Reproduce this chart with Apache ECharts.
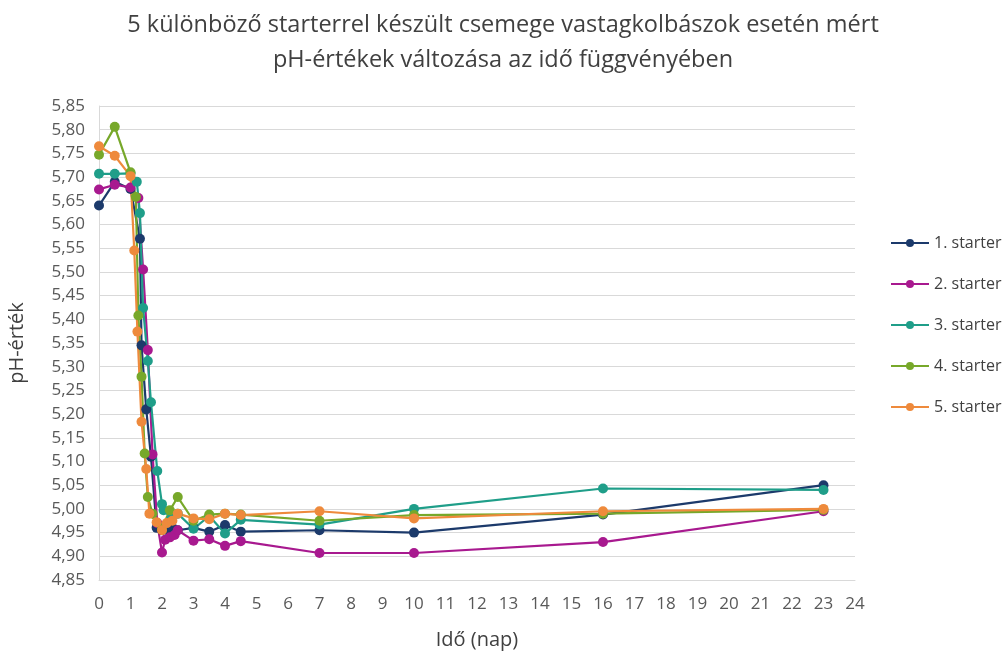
<!DOCTYPE html>
<html>
<head>
<meta charset="utf-8">
<title>pH-értékek</title>
<style>
  html, body { margin: 0; padding: 0; background: #fff; }
  #main { width: 1006px; height: 655px; }
</style>
</head>
<body>
<div id="main"></div>
<script src="https://cdn.jsdelivr.net/npm/echarts@6/dist/echarts.min.js"></script>
<script>
// adatok: [idő (nap), pH]
var starter1 = [[0,5.64],[0.5,5.69],[1,5.675],[1.3,5.57],[1.35,5.345],[1.5,5.21],[1.65,5.11],[1.83,4.96],[2,4.955],[2.17,4.955],[2.33,4.96],[2.5,4.955],[3,4.96],[3.5,4.952],[4,4.966],[4.5,4.952],[7,4.955],[10,4.95],[16,4.988],[23,5.05]];
var starter2 = [[0,5.674],[0.5,5.684],[1,5.678],[1.25,5.656],[1.4,5.505],[1.55,5.335],[1.7,5.115],[1.85,4.97],[2,4.908],[2.1,4.935],[2.25,4.94],[2.4,4.945],[2.5,4.955],[3,4.933],[3.5,4.936],[4,4.922],[4.5,4.932],[7,4.907],[10,4.907],[16,4.93],[23,4.995]];
var starter3 = [[0,5.707],[0.5,5.707],[1,5.708],[1.2,5.69],[1.3,5.624],[1.4,5.424],[1.55,5.312],[1.65,5.225],[1.85,5.08],[2,5.01],[2.05,4.997],[2.3,4.98],[2.5,4.99],[3,4.958],[3.5,4.985],[4,4.948],[4.5,4.977],[7,4.967],[10,5.0],[16,5.043],[23,5.04]];
var starter4 = [[0,5.747],[0.5,5.806],[1,5.71],[1.17,5.658],[1.25,5.408],[1.35,5.279],[1.45,5.117],[1.55,5.025],[1.7,4.99],[2,4.96],[2.25,4.997],[2.5,5.025],[3,4.975],[3.5,4.988],[4,4.99],[4.5,4.988],[7,4.975],[10,4.987],[16,4.99],[23,4.998]];
var starter5 = [[0,5.765],[0.5,5.745],[1,5.702],[1.12,5.545],[1.22,5.374],[1.35,5.184],[1.5,5.084],[1.6,4.99],[1.83,4.972],[2,4.955],[2.15,4.97],[2.33,4.975],[2.5,4.99],[3,4.98],[3.5,4.978],[4,4.99],[4.5,4.987],[7,4.995],[10,4.98],[16,4.995],[23,5.0]];
var seriesNames = ['1. starter','2. starter','3. starter','4. starter','5. starter'];
var seriesColors = ['#1c3a6b','#a8198f','#1f9e89','#77a82a','#ee8a3c'];
var seriesData = [starter1, starter2, starter3, starter4, starter5];

var myChart = echarts.init(document.getElementById('main'));
var font = '"Open Sans", "Noto Sans", sans-serif';

var option = {
    backgroundColor: '#fff',
    animation: false,
    textStyle: { fontFamily: font },
    title: {
        text: '5 különböző starterrel készült csemege vastagkolbászok esetén mért\npH-értékek változása az idő függvényében',
        left: 'center',
        top: 3,
        textStyle: { fontSize: 23.5, fontWeight: 'normal', color: '#404040', lineHeight: 35, fontFamily: font }
    },
    legend: {
        orient: 'vertical',
        left: 885,
        top: 230,
        itemGap: 25,
        itemWidth: 38,
        itemHeight: 10,
        data: seriesNames,
        textStyle: { fontSize: 16, color: '#404040' }
    },
    grid: { left: 99, right: 151, top: 106, bottom: 75, outerBoundsMode: 'none' },
    xAxis: {
        type: 'value',
        min: 0,
        max: 24,
        interval: 1,
        name: 'Idő (nap)',
        nameLocation: 'middle',
        nameGap: 50,
        nameTextStyle: { fontSize: 20, color: '#404040' },
        axisLine: { lineStyle: { color: '#d9d9d9' } },
        axisTick: { show: false },
        axisLabel: { fontSize: 17, color: '#595959', margin: 16 },
        splitLine: { show: false }
    },
    yAxis: {
        type: 'value',
        min: 4.85,
        max: 5.85,
        interval: 0.05,
        name: 'pH-érték',
        nameLocation: 'middle',
        nameGap: 72,
        nameTextStyle: { fontSize: 20, color: '#404040' },
        axisLine: { show: true, lineStyle: { color: '#d9d9d9' } },
        axisTick: { show: false },
        axisLabel: {
            fontSize: 17, color: '#595959', margin: 14,
            formatter: function (v) { return v.toFixed(2).replace('.', ','); }
        },
        splitLine: { lineStyle: { color: '#d9d9d9' } }
    },
    series: seriesNames.map(function (name, i) {
        return {
            name: name,
            type: 'line',
            data: seriesData[i],
            color: seriesColors[i],
            symbol: 'circle',
            symbolSize: 10,
            lineStyle: { width: 2.2 }
        };
    })
};

myChart.setOption(option);
</script>
</body>
</html>
